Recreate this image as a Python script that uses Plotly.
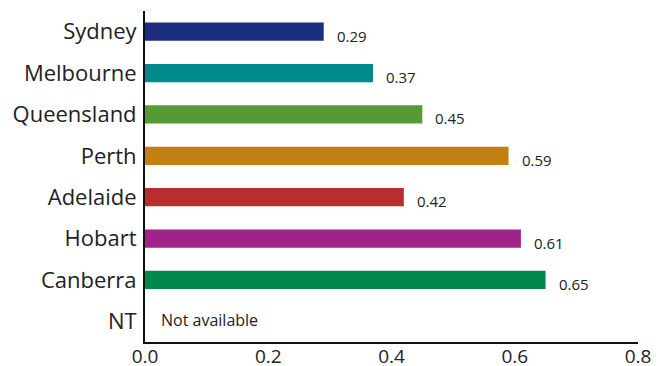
import plotly.graph_objects as go

# Values by region (NT has no data)
regions = ["Sydney", "Melbourne", "Queensland", "Perth", "Adelaide", "Hobart", "Canberra", "NT"]
values = [0.29, 0.37, 0.45, 0.59, 0.42, 0.61, 0.65, None]
value_labels = ["0.29", "0.37", "0.45", "0.59", "0.42", "0.61", "0.65", None]
colors = ["#1b2f7e", "#008a89", "#569a35", "#c38012", "#b92d2e", "#a0238a", "#00874b", "#ffffff"]
missing_label = "Not available"
x_ticks = [0.0, 0.2, 0.4, 0.6, 0.8]
x_tick_text = ["0.0", "0.2", "0.4", "0.6", "0.8"]

FONT = "Open Sans, sans-serif"
TEXT = "#222222"

fig = go.Figure(
    go.Bar(
        x=[v if v is not None else 0 for v in values],
        y=regions,
        orientation="h",
        marker=dict(color=colors, line=dict(width=0)),
        hoverinfo="skip",
    )
)

for region, v, lab in zip(regions, values, value_labels):
    if v is None:
        fig.add_annotation(
            x=0, y=region, text=missing_label, showarrow=False,
            xanchor="left", xshift=14, yshift=1,
            font=dict(family=FONT, size=16, color=TEXT),
        )
    else:
        fig.add_annotation(
            x=v, y=region, text=lab, showarrow=False,
            xanchor="left", xshift=11, yshift=-4,
            font=dict(family=FONT, size=15, color=TEXT),
        )

fig.update_layout(
    width=668,
    height=366,
    margin=dict(l=145, r=30, t=11, b=24),
    paper_bgcolor="white",
    plot_bgcolor="white",
    bargap=0.56,
    showlegend=False,
    font=dict(family=FONT, color=TEXT),
    xaxis=dict(
        range=[0, 0.8],
        tickvals=x_ticks,
        ticktext=x_tick_text,
        showgrid=False,
        zeroline=False,
        showline=True,
        linecolor="#111111",
        linewidth=2,
        ticks="",
        automargin=False,
        ticklabelstandoff=-4,
        tickfont=dict(family=FONT, size=19, color=TEXT),
    ),
    yaxis=dict(
        categoryorder="array",
        categoryarray=regions,
        autorange="reversed",
        showgrid=False,
        zeroline=False,
        showline=True,
        linecolor="#111111",
        linewidth=2,
        ticks="",
        automargin=False,
        ticklabelstandoff=2,
        tickfont=dict(family=FONT, size=22, color=TEXT),
    ),
)

fig.write_html("out.html")
